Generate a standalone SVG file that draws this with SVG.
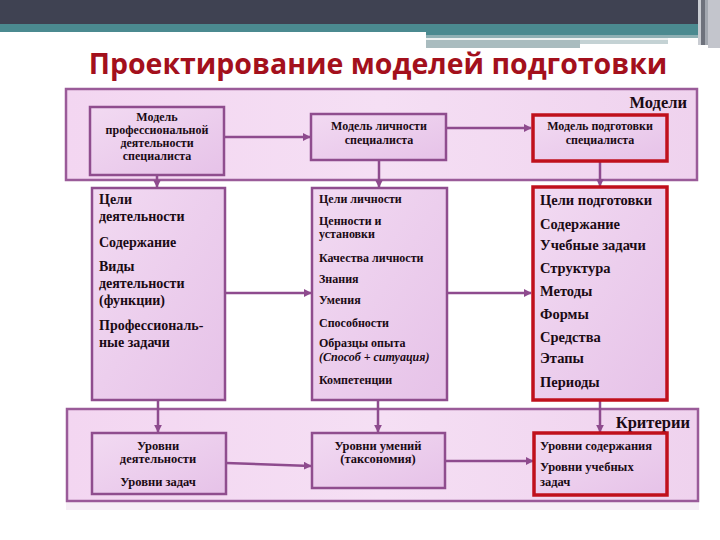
<svg xmlns="http://www.w3.org/2000/svg" width="720" height="540" viewBox="0 0 720 540">
<defs>
<linearGradient id="gBox" x1="0" y1="0" x2="1" y2="1">
<stop offset="0" stop-color="#f2daf2"/>
<stop offset="1" stop-color="#e6c2e8"/>
</linearGradient>
<linearGradient id="gOuter" x1="0" y1="0" x2="1" y2="0">
<stop offset="0" stop-color="#f3d6f1"/>
<stop offset="0.5" stop-color="#f5dff4"/>
<stop offset="1" stop-color="#efd2ee"/>
</linearGradient>
<marker id="arr" viewBox="0 0 10 10" refX="9" refY="5" markerWidth="3.2" markerHeight="3.2" orient="auto" markerUnits="strokeWidth">
<path d="M0,0 L10,5 L0,10 z" fill="#8e4b8e"/>
</marker>
<style>
.outer{fill:url(#gOuter);stroke:#9a5b99;stroke-width:2.5}
.box{fill:url(#gBox);stroke:#8f4d8e;stroke-width:2.5}
.red{fill:url(#gBox);stroke:#c0101c;stroke-width:3.5}
.t{font-family:"Liberation Serif","Times New Roman",serif;font-weight:bold;fill:#1a0a14}
.c{text-anchor:middle}
.conn{stroke:#8e4b8e;stroke-width:2.5;fill:none}
</style>
</defs>
<rect width="720" height="540" fill="#ffffff"/>
<g id="header">
<rect x="0" y="0" width="720" height="24" fill="#3f4252"/>
<rect x="0" y="24" width="720" height="8" fill="#4b8a90"/>
<rect x="426" y="32" width="272" height="4" fill="#4b8a90"/>
<rect x="426" y="35" width="272" height="3" fill="#8fb0b4"/>
<rect x="426" y="38" width="242" height="2" fill="#eef2f2"/>
<rect x="426" y="40" width="154" height="8" fill="#a9bcbf"/>
<rect x="580" y="40" width="88" height="4" fill="#c4d2d4"/>
<rect x="698" y="0" width="3" height="45" fill="#c9ccd2"/>
<rect x="701" y="0" width="4" height="45" fill="#6e727c"/>
<rect x="705" y="0" width="3" height="45" fill="#a3a8b0"/>
<rect x="708" y="0" width="12" height="48" fill="#c3c5cc"/>
</g>
<text id="title" x="378" y="74" text-anchor="middle" font-family="'Open Sans','Noto Sans','Liberation Sans',sans-serif" font-weight="bold" font-size="28.5" fill="#a3101c">Проектирование моделей подготовки</text>
<g id="models-panel">
<rect class="outer" x="66" y="89" width="631" height="91"/>
<text class="t" x="687" y="108" font-size="16.5" text-anchor="end">Модели</text>
</g>
<g id="criteria-panel">
<rect x="66" y="502" width="633" height="8" fill="#f6eef6"/>
<rect class="outer" x="67" y="409" width="631" height="92"/>
<text class="t" x="690" y="428" font-size="16.5" text-anchor="end">Критерии</text>
</g>
<g id="connectors">
<line class="conn" x1="224" y1="137" x2="310" y2="137" marker-end="url(#arr)"/>
<line class="conn" x1="446" y1="128" x2="531" y2="128" marker-end="url(#arr)"/>
<line class="conn" x1="157" y1="175" x2="157" y2="187" marker-end="url(#arr)"/>
<line class="conn" x1="379" y1="160" x2="379" y2="187" marker-end="url(#arr)"/>
<line class="conn" x1="600" y1="161" x2="600" y2="186" marker-end="url(#arr)"/>
<line class="conn" x1="225" y1="293" x2="311" y2="293" marker-end="url(#arr)"/>
<line class="conn" x1="447" y1="293" x2="531" y2="293" marker-end="url(#arr)"/>
<line class="conn" x1="158" y1="400" x2="158" y2="432" marker-end="url(#arr)"/>
<line class="conn" x1="378" y1="400" x2="378" y2="432" marker-end="url(#arr)"/>
<line class="conn" x1="600" y1="400" x2="600" y2="432" marker-end="url(#arr)"/>
<line class="conn" x1="226" y1="463" x2="311" y2="466" marker-end="url(#arr)"/>
<line class="conn" x1="445" y1="461" x2="533" y2="461" marker-end="url(#arr)"/>
</g>
<g id="prof-model">
<rect class="box" x="90" y="107" width="134" height="68"/>
<text class="t c" font-size="12" x="157"><tspan x="157" y="121">Модель</tspan><tspan x="157" y="134">профессиональной</tspan><tspan x="157" y="147">деятельности</tspan><tspan x="157" y="160">специалиста</tspan></text>
</g>
<g id="person-model">
<rect class="box" x="311" y="114" width="135" height="46"/>
<text class="t c" font-size="12" x="379"><tspan x="379" y="130">Модель личности</tspan><tspan x="379" y="144">специалиста</tspan></text>
</g>
<g id="training-model">
<rect class="red" x="533" y="115" width="134" height="46"/>
<text class="t c" font-size="12" x="600"><tspan x="600" y="130">Модель подготовки</tspan><tspan x="600" y="144">специалиста</tspan></text>
</g>
<g id="activity">
<rect class="box" x="92" y="188" width="133" height="212"/>
<text class="t" font-size="14" x="99"><tspan x="99" y="204">Цели</tspan><tspan x="99" y="221">деятельности</tspan><tspan x="99" y="247">Содержание</tspan><tspan x="99" y="271">Виды</tspan><tspan x="99" y="288">деятельности</tspan><tspan x="99" y="305">(функции)</tspan><tspan x="99" y="330">Профессиональ-</tspan><tspan x="99" y="347">ные задачи</tspan></text>
</g>
<g id="personality">
<rect class="box" x="312" y="188" width="135" height="212"/>
<text class="t" font-size="12" x="319"><tspan x="319" y="203">Цели личности</tspan><tspan x="319" y="225">Ценности и</tspan><tspan x="319" y="238">установки</tspan><tspan x="319" y="262">Качества личности</tspan><tspan x="319" y="283">Знания</tspan><tspan x="319" y="304">Умения</tspan><tspan x="319" y="327">Способности</tspan><tspan x="319" y="347">Образцы опыта</tspan><tspan x="319" y="361" font-style="italic">(Способ + ситуация)</tspan><tspan x="319" y="384">Компетенции</tspan></text>
</g>
<g id="training">
<rect class="red" x="533" y="187" width="134" height="213"/>
<text class="t" font-size="14.5" x="540"><tspan x="540" y="205">Цели подготовки</tspan><tspan x="540" y="229">Содержание</tspan><tspan x="540" y="250">Учебные задачи</tspan><tspan x="540" y="273">Структура</tspan><tspan x="540" y="296">Методы</tspan><tspan x="540" y="319">Формы</tspan><tspan x="540" y="342">Средства</tspan><tspan x="540" y="363">Этапы</tspan><tspan x="540" y="387">Периоды</tspan></text>
</g>
<g id="activity-levels">
<rect class="box" x="92" y="433" width="134" height="61"/>
<text class="t c" font-size="12.5" x="158"><tspan x="158" y="450">Уровни</tspan><tspan x="158" y="463">деятельности</tspan><tspan x="158" y="486">Уровни задач</tspan></text>
</g>
<g id="skill-levels">
<rect class="box" x="312" y="433" width="133" height="55"/>
<text class="t c" font-size="12.5" x="378"><tspan x="378" y="450">Уровни умений</tspan><tspan x="378" y="463">(таксономия)</tspan></text>
</g>
<g id="content-levels">
<rect class="red" x="534" y="433" width="133" height="62"/>
<text class="t" font-size="12.5" x="540"><tspan x="540" y="450">Уровни содержания</tspan><tspan x="540" y="471">Уровни учебных</tspan><tspan x="540" y="486">задач</tspan></text>
</g>
</svg>
